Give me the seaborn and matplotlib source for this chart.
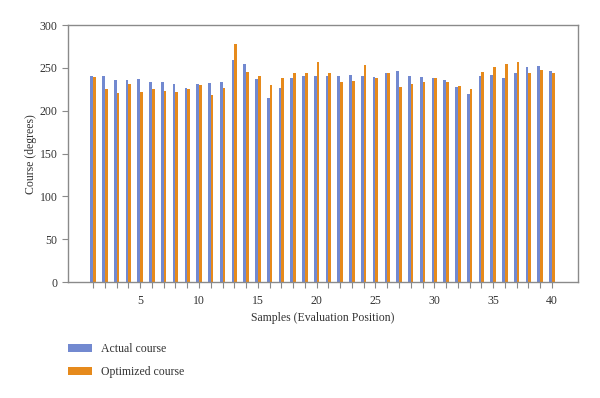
import numpy as np
import pandas as pd
import matplotlib
matplotlib.use("Agg")
import matplotlib.pyplot as plt
import seaborn as sns

samples = list(range(1, 41))
actual_course = [241, 240, 236, 235.5, 237.5, 233, 233, 231, 227, 231.5,
                 232.5, 233, 259.5, 255, 237, 215, 227, 238, 240, 240.5,
                 240, 240.5, 242, 241, 239.5, 244, 246, 240.5, 239.5, 238.5,
                 235.5, 228, 220, 240.5, 242, 238.5, 244.5, 251, 252.5, 246]
optimized_course = [239, 225, 220.5, 231, 222, 225, 223, 221.5, 225, 229.5,
                    218.5, 226.5, 278.5, 245, 240.5, 229.5, 238, 243.5, 243.5, 257,
                    243.5, 234, 235, 253, 238.5, 244, 228, 231, 234, 238.5,
                    233, 228.5, 225, 245, 251.5, 255, 257, 243.5, 247.5, 243.5]

df = pd.DataFrame({
    "sample": samples * 2,
    "course": actual_course + optimized_course,
    "series": ["Actual course"] * 40 + ["Optimized course"] * 40,
})

sns.set_style("white")
plt.rcParams["font.family"] = ["Liberation Serif", "DejaVu Serif"]

fig = plt.figure(figsize=(6, 3.98), dpi=100)
ax = fig.add_axes([0.113, 0.291, 0.85, 0.646])

palette = {"Actual course": "#7289d0", "Optimized course": "#e68a1c"}
sns.barplot(data=df, x="sample", y="course", hue="series", native_scale=True,
            palette=palette, width=0.46, saturation=1, errorbar=None, ax=ax,
            linewidth=0, antialiased=False)

ax.set_xlim(-1.15, 42.2)
ax.set_ylim(0, 300)
ax.set_xticks([5, 10, 15, 20, 25, 30, 35, 40])
ax.set_xticks(range(1, 41), minor=True)
ax.set_yticks(range(0, 301, 50))

for s in ax.spines.values():
    s.set_color("#8a8a8a")
    s.set_linewidth(1.0)
ax.tick_params(axis="x", which="both", bottom=True)
ax.tick_params(axis="y", which="major", left=True)
ax.tick_params(axis="both", which="both", direction="out", color="#8a8a8a",
               labelcolor="#333333", labelsize=8.5, width=0.8)
ax.tick_params(axis="both", which="major", length=4)
ax.tick_params(axis="x", which="minor", length=4)
ax.tick_params(axis="x", which="major", pad=5)

ax.set_xlabel("Samples (Evaluation Position)", fontsize=8.5, color="#333333", labelpad=4)
ax.set_ylabel("Course (degrees)", fontsize=8.5, color="#333333", labelpad=2)

handles, labels = ax.get_legend_handles_labels()
ax.get_legend().remove()
fig.legend(handles, labels, loc="upper left", bbox_to_anchor=(0.095, 0.165),
           frameon=False, fontsize=8.5, handlelength=2.1, handleheight=0.6,
           handletextpad=0.7, labelspacing=0.95, labelcolor="#333333")

fig.savefig("out.png", dpi=100)
